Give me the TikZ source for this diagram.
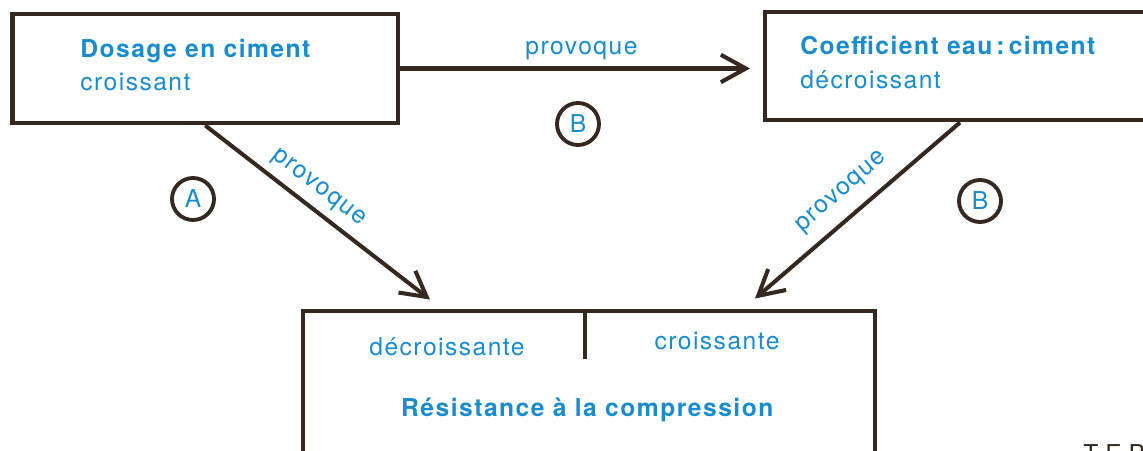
\documentclass[tikz,border=0pt]{standalone}
\usepackage{fontspec}
\setmainfont{TeX Gyre Heros}
\newfontfamily\spacedfont[LetterSpace=6]{TeX Gyre Heros}
\usepackage{xcolor}
\usetikzlibrary{arrows.meta}

\definecolor{inkblue}{RGB}{24,140,205}
\definecolor{inkbrown}{RGB}{52,40,32}

\begin{document}
\begin{tikzpicture}[
  box/.style={draw=inkbrown, line width=2.8pt, rectangle, inner sep=0pt},
  words/.style={text=inkblue, font=\spacedfont\fontsize{14}{19}\selectfont, inner sep=0pt, align=left},
  link/.style={draw=inkbrown, line width=2.3pt, -{Straight Barb[length=5mm,width=5.5mm]}},
  circled/.style={circle, draw=inkbrown, line width=2.2pt, minimum size=0.84cm, inner sep=0pt,
                  text=inkblue, font=\fontsize{14}{16}\selectfont}
]
	  \useasboundingbox (0,0) rectangle (22.86,-9);
	  \clip (0,0) rectangle (22.86,-9);

	  % Nodes
	  \node[box, minimum width=7.71cm, minimum height=2.18cm] (dosage) at (4.105,-1.37) {};
	  \node[box, minimum width=7.9cm, minimum height=2.16cm] (coeff) at (19.25,-1.32) {};
	  \node[box, minimum width=11.44cm, minimum height=3.08cm] (resistance) at (11.78,-7.76) {};
	  \node[words, anchor=north west] (dosagetext) at (1.6,-0.77) {\textbf{Dosage en ciment}\\croissant};
	  \node[words, anchor=north west] (coefftext) at (16.0,-0.72) {\textbf{Coefficient eau\,:\,ciment}\\décroissant};
	  \node[words, anchor=base] (lowtext) at (8.94,-7.1) {décroissante};
	  \node[words, anchor=base] (hightext) at (14.34,-6.98) {croissante};
	  \node[words, anchor=base] (restext) at (11.76,-8.32) {\textbf{Résistance à la compression}};
	  \node[circled] (circA) at (3.86,-3.98) {A};
	  \node[circled] (circB) at (11.56,-2.48) {B};
	  \node[circled] (circBB) at (19.6,-4.02) {B};
	  \node[anchor=north west, inner sep=0pt, text=inkbrown, font=\fontsize{14}{16}\selectfont] (teb) at (21.66,-8.88) {T\hspace{4pt}E\hspace{4pt}B};

	  % Arrows
	  \draw[inkbrown, line width=2.8pt] ([xshift=-0.08cm]resistance.north) -- ++(0,-1.0); % divider in the lower box
	  \draw[link, shorten >=0.25cm] (dosage.east) -- (dosage.east -| coeff.west) node[words, midway, above=4pt] {provoque}; % top arrow
	  \draw[link] (dosage.south) -- ([xshift=-3.18cm,yshift=0.18cm]resistance.north) node[words, pos=0.45, sloped, above=4.5pt] {provoque}; % left arrow
	  \draw[link] ([xshift=-0.05cm]coeff.south) -- ([xshift=3.32cm,yshift=0.2cm]resistance.north) node[words, pos=0.5, sloped, above=7pt] {provoque}; % right arrow
\end{tikzpicture}
\end{document}
